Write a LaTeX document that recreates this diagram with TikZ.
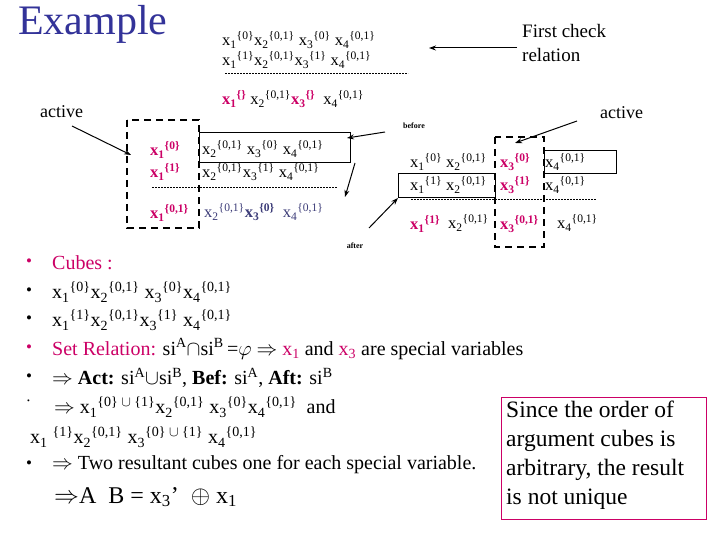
\documentclass[tikz,border=0pt]{standalone}
\usepackage{fontspec}
\setmainfont{Liberation Serif}
\usetikzlibrary{arrows.meta}
\definecolor{mag}{RGB}{204,0,102}
\definecolor{titleblue}{RGB}{51,51,153}
\definecolor{navy}{RGB}{60,60,120}
\newcommand{\vx}[2]{x\textsubscript{#1}\textsuperscript{\{#2\}}}
\newcommand{\vb}[2]{\textbf{x\textsubscript{#1}\textsuperscript{\{#2\}}}}
\begin{document}
\begin{tikzpicture}[x=1pt,y=-1pt,
  t/.style={anchor=west,inner sep=0pt,font=\fontsize{16.5}{18}\selectfont},
  m/.style={anchor=west,inner sep=0pt,font=\fontsize{20}{23}\selectfont},
  sm/.style={anchor=center,inner sep=0pt,font=\fontsize{8}{9}\selectfont\bfseries},
  arr/.style={-{Stealth[length=7pt,width=5pt]},line width=1pt},
  dbox/.style={dashed,dash pattern=on 7pt off 5pt,line width=2pt},
  sbox/.style={line width=1pt},
  dl/.style={dashed,dash pattern=on 2pt off 1pt,line width=0.5pt}]
\useasboundingbox (0,0) rectangle (720,540);
\fill[white] (0,0) rectangle (720,540);
\node[anchor=west,inner sep=0pt,text=titleblue,font=\fontsize{42}{46}\selectfont] (title) at (18,24) {Example};
% top cubes
\node[t] (r1) at (222,40) {\vx{1}{0}\vx{2}{0,1} \vx{3}{0} \vx{4}{0,1}};
\node[t] (r2) at (222,60) {\vx{1}{1}\vx{2}{0,1}\vx{3}{1} \vx{4}{0,1}};
\coordinate (d1a) at (225,73); \coordinate (d1b) at (408,73);
\draw[dl] (d1a) -- (d1b);
\node[t] (r3) at (222,99) {\textcolor{mag}{\bfseries x\textsubscript{1}\textsuperscript{\{\}}} \vx{2}{0,1}\textcolor{mag}{\bfseries x\textsubscript{3}\textsuperscript{\{\}}} \ \vx{4}{0,1}};
\node[anchor=north west,inner sep=0pt,align=left,font=\fontsize{19}{24}\selectfont] (fc) at (522,24) {First check\\relation};
\coordinate (fcs) at (517,48); \coordinate (fce) at (429,48);
\draw[arr] (fcs) -- (fce);
% left group
\node[t,font=\fontsize{18}{20}\selectfont] (act1) at (40,112) {active};
\coordinate (a1s) at (72,126); \coordinate (a1e) at (131,155);
\draw[arr] (a1s) -- (a1e);
\draw[dbox] (127,120) rectangle (199,228);
\node (lb1) [draw,sbox,minimum width=151pt,minimum height=30pt,inner sep=0pt] at (274.5,148) {};
\node[t,text=mag] (l1a) at (150,150) {\vb{1}{0}};
\node[t] (l1b) at (202,149) {\vx{2}{0,1} \vx{3}{0} \vx{4}{0,1}};
\node[t,text=mag] (l2a) at (150,172) {\vb{1}{1}};
\node[t] (l2b) at (202,172) {\vx{2}{0,1}\vx{3}{1} \vx{4}{0,1}};
\coordinate (d2a) at (152,187); \coordinate (d2b) at (337,187);
\draw[dl] (d2a) -- (d2b);
\node[t,text=mag] (l3a) at (150,213) {\vb{1}{0,1}};
\node[t,text=navy] (l3b) at (204,212) {\vx{2}{0,1}\textbf{\vx{3}{0}} \ \vx{4}{0,1}};
\node[sm] (bef) at (414,126) {before};
\coordinate (bfs) at (385,132); \coordinate (bfe) at (347,138);
\draw[arr] (bfs) -- (bfe);
\coordinate (dns) at (355,163); \coordinate (dne) at (345,197);
\draw[arr] (dns) -- (dne);
\node[sm] (aft) at (355,246) {after};
\coordinate (afs) at (369,228); \coordinate (afe) at (398,198);
\draw[arr] (afs) -- (afe);
% right group
\node[t,font=\fontsize{18}{20}\selectfont] (act2) at (600,113) {active};
\coordinate (a2s) at (577,121); \coordinate (a2e) at (515,143);
\draw[arr] (a2s) -- (a2e);
\draw[dbox] (495,137) rectangle (544,247);
\draw[sbox] (544,151) rectangle (616,174);
\draw[sbox] (398,174) rectangle (495,198);
\node[t] (q1a) at (410,162) {\vx{1}{0} \vx{2}{0,1}};
\node[t,text=mag] (q1b) at (500,162) {\vb{3}{0}};
\node[t] (q1c) at (545,162) {\vx{4}{0,1}};
\node[t] (q2a) at (410,185) {\vx{1}{1} \vx{2}{0,1}};
\node[t,text=mag] (q2b) at (500,185) {\vb{3}{1}};
\node[t] (q2c) at (545,185) {\vx{4}{0,1}};
\coordinate (d3a) at (411,199); \coordinate (d3b) at (596,199);
\draw[dl] (d3a) -- (d3b);
\node[t,text=mag] (q3a) at (410,224) {\vb{1}{1}};
\node[t] (q3b) at (448,223) {\vx{2}{0,1}};
\node[t,text=mag] (q3c) at (500,224) {\vb{3}{0,1}};
\node[t] (q3d) at (557,223) {\vx{4}{0,1}};
% bullets
\foreach \y/\c in {263/mag,292/black,320/black,349/mag,378/black,465/black}
  \node[m,text=\c,font=\fontsize{17}{20}\selectfont] at (26,\y) {\textbullet};
\node[m,font=\fontsize{8}{8}\selectfont] at (27,402) {\textbullet};
\node[m,text=mag] (b1) at (52,263) {Cubes :};
\node[m] (b2) at (52,292) {\vx{1}{0}\vx{2}{0,1} \vx{3}{0}\vx{4}{0,1}};
\node[m] (b3) at (52,320) {\vx{1}{1}\vx{2}{0,1}\vx{3}{1} \vx{4}{0,1}};
\node[m] (b4) at (52,349) {\textcolor{mag}{Set Relation:} si\textsuperscript{A}$\cap$si\textsuperscript{B}\,=$\varphi$ $\Rightarrow$ \textcolor{mag}{x\textsubscript{1}} and \textcolor{mag}{x\textsubscript{3}} are special variables};
\node[m] (b5) at (52,378) {$\Rightarrow$ \textbf{Act:} si\textsuperscript{A}$\cup$si\textsuperscript{B}, \textbf{Bef:} si\textsuperscript{A}, \textbf{Aft:} si\textsuperscript{B}};
\node[m] (b6) at (54,407) {$\Rightarrow$ x\textsubscript{1}\textsuperscript{\{0\} $\cup$ \{1\}}\vx{2}{0,1} \vx{3}{0}\vx{4}{0,1}\ \ and};
\node[m] (b7) at (30,437) {x\textsubscript{1} \textsuperscript{\{1\}}\vx{2}{0,1} x\textsubscript{3}\textsuperscript{\{0\} $\cup$ \{1\}} \vx{4}{0,1}};
\node[m] (b8) at (52,465) {$\Rightarrow$ Two resultant cubes one for each special variable.};
\node[m,font=\fontsize{24}{28}\selectfont] (b9) at (54,497) {$\Rightarrow$A\ \ B = x\textsubscript{3}'\ \ $\oplus$ x\textsubscript{1}};
\node[draw=mag,line width=0.8pt,anchor=north west,minimum width=205pt,minimum height=122pt,inner sep=0pt] (nb) at (501,397) {};
\node[anchor=north west,inner sep=0pt,align=left,font=\fontsize{23.5}{29}\selectfont] (nbt) at (506,401) {Since the order of\\argument cubes is\\arbitrary, the result\\is not unique};
\end{tikzpicture}
\end{document}
